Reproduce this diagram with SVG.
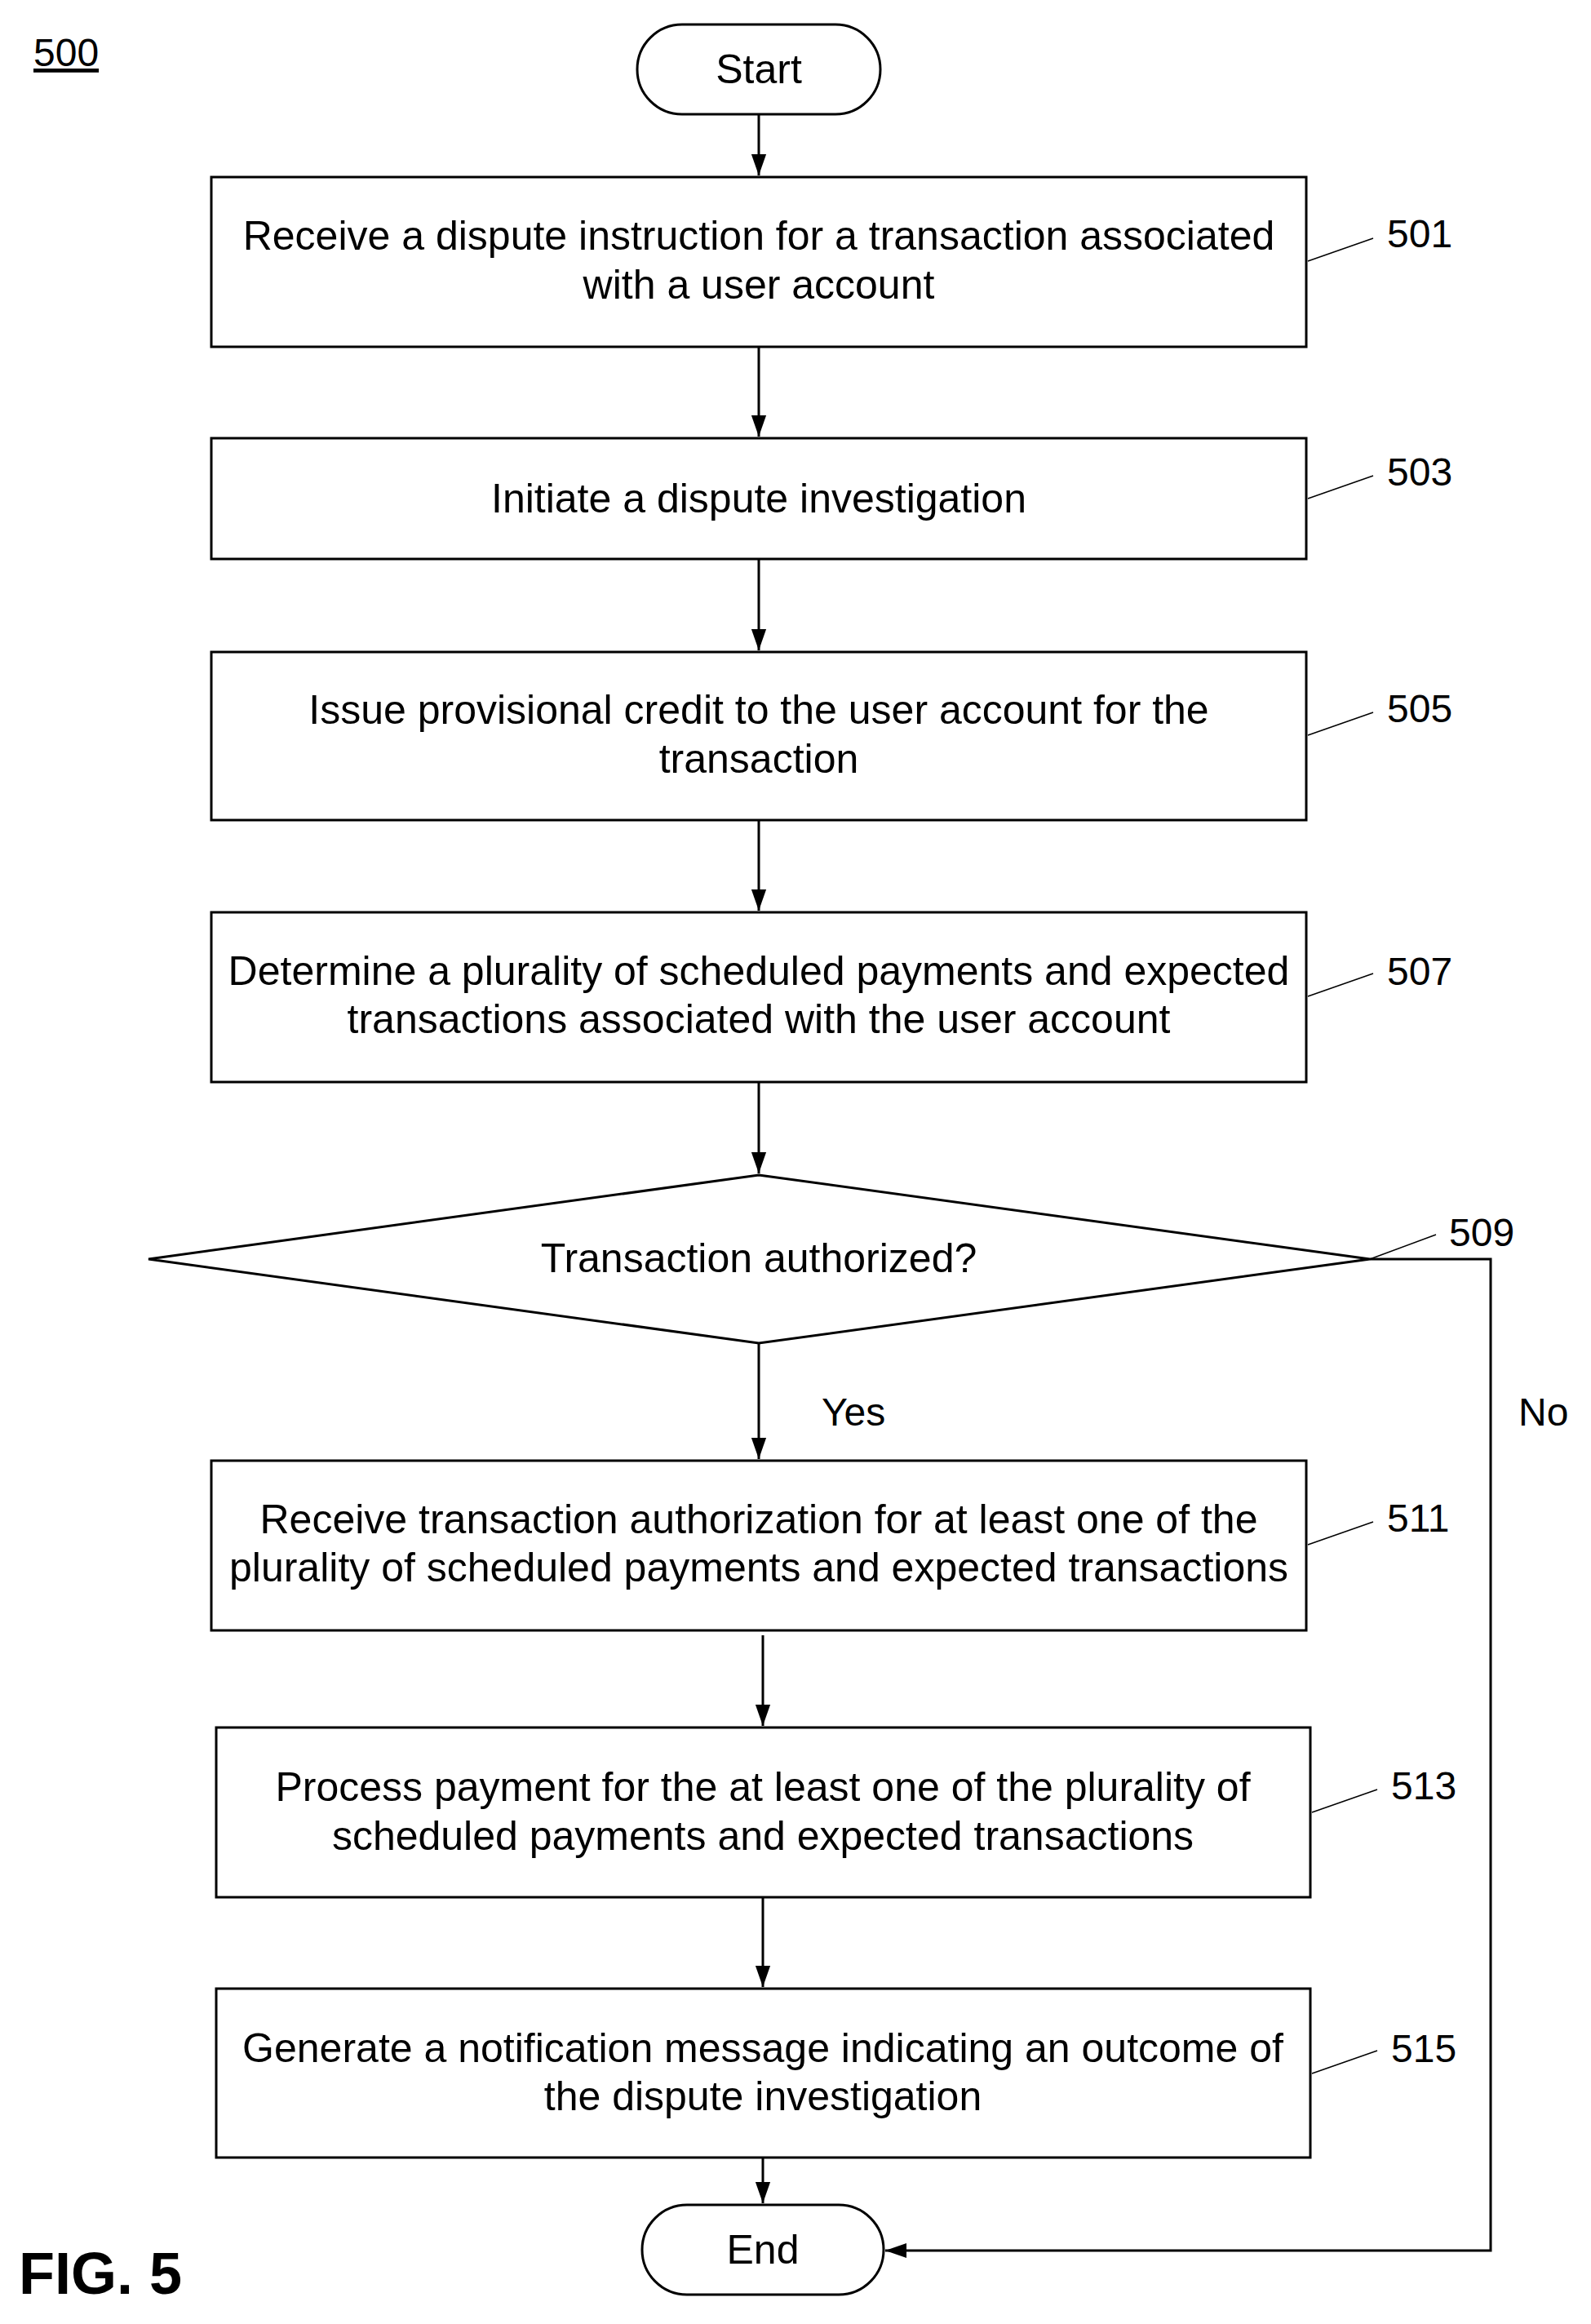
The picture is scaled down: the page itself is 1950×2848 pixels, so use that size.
<svg xmlns="http://www.w3.org/2000/svg" width="1950" height="2848" viewBox="0 0 1950 2848">
<style>
.b{fill:#fff;stroke:#000;stroke-width:3}
.t{font-family:"Liberation Sans",Arial,sans-serif;font-size:50px;text-anchor:middle;fill:#000}
.n{font-family:"Liberation Sans",Arial,sans-serif;font-size:48px;fill:#000}
.c{fill:none;stroke:#000;stroke-width:3}
.l{stroke:#000;stroke-width:1.5}
</style>
<defs>
<marker id="ar" viewBox="0 0 20 20" refX="20" refY="10" markerWidth="26" markerHeight="26" markerUnits="userSpaceOnUse" orient="auto"><path d="M0,3 L20,10 L0,17 z"/></marker></defs>
<g transform="translate(3,8)">
<text class="n" x="38" y="73" text-decoration="underline">500</text>
<text x="20" y="2803" style="font-family:'Liberation Sans',Arial,sans-serif;font-size:72px;font-weight:bold">FIG. 5</text>
<g id="start"><rect class="b" x="778" y="22" width="298" height="110" rx="55"/><text class="t" x="927" y="94">Start</text></g>
<g id="n501"><rect class="b" x="256" y="209" width="1342" height="208"/><text class="t" x="927" y="298">Receive a dispute instruction for a transaction associated</text><text class="t" x="927" y="358">with a user account</text><line class="l" x1="1600" y1="312" x2="1680" y2="284"/><text class="n" x="1697" y="295">501</text></g>
<g id="n503"><rect class="b" x="256" y="529" width="1342" height="148"/><text class="t" x="927" y="620">Initiate a dispute investigation</text><line class="l" x1="1600" y1="603" x2="1680" y2="575"/><text class="n" x="1697" y="587">503</text></g>
<g id="n505"><rect class="b" x="256" y="791" width="1342" height="206"/><text class="t" x="927" y="879">Issue provisional credit to the user account for the</text><text class="t" x="927" y="939">transaction</text><line class="l" x1="1600" y1="893" x2="1680" y2="865"/><text class="n" x="1697" y="877">505</text></g>
<g id="n507"><rect class="b" x="256" y="1110" width="1342" height="208"/><text class="t" x="927" y="1199">Determine a plurality of scheduled payments and expected</text><text class="t" x="927" y="1258">transactions associated with the user account</text><line class="l" x1="1600" y1="1213" x2="1680" y2="1185"/><text class="n" x="1697" y="1199">507</text></g>
<g id="n509"><polygon class="b" points="927,1432 1676,1535 927,1638 179,1535"/><text class="t" x="927" y="1551">Transaction authorized?</text><line class="l" x1="1676" y1="1535" x2="1757" y2="1505"/><text class="n" x="1773" y="1519">509</text></g>
<g id="n511"><rect class="b" x="256" y="1782" width="1342" height="208"/><text class="t" x="927" y="1871">Receive transaction authorization for at least one of the</text><text class="t" x="927" y="1930">plurality of scheduled payments and expected transactions</text><line class="l" x1="1600" y1="1885" x2="1680" y2="1857"/><text class="n" x="1697" y="1869">511</text></g>
<g id="n513"><rect class="b" x="262" y="2109" width="1341" height="208"/><text class="t" x="932" y="2199">Process payment for the at least one of the plurality of</text><text class="t" x="932" y="2259">scheduled payments and expected transactions</text><line class="l" x1="1605" y1="2213" x2="1685" y2="2185"/><text class="n" x="1702" y="2197">513</text></g>
<g id="n515"><rect class="b" x="262" y="2429" width="1341" height="207"/><text class="t" x="932" y="2519">Generate a notification message indicating an outcome of</text><text class="t" x="932" y="2578">the dispute investigation</text><line class="l" x1="1605" y1="2533" x2="1685" y2="2505"/><text class="n" x="1702" y="2519">515</text></g>
<g id="end"><rect class="b" x="784" y="2694" width="296" height="110" rx="55"/><text class="t" x="932" y="2766">End</text></g>
<g id="connectors">
<line class="c" x1="927" y1="132" x2="927" y2="207" marker-end="url(#ar)"/>
<line class="c" x1="927" y1="417" x2="927" y2="527" marker-end="url(#ar)"/>
<line class="c" x1="927" y1="677" x2="927" y2="789" marker-end="url(#ar)"/>
<line class="c" x1="927" y1="997" x2="927" y2="1108" marker-end="url(#ar)"/>
<line class="c" x1="927" y1="1318" x2="927" y2="1430" marker-end="url(#ar)"/>
<line class="c" x1="927" y1="1638" x2="927" y2="1780" marker-end="url(#ar)"/>
<line class="c" x1="932" y1="1996" x2="932" y2="2107" marker-end="url(#ar)"/>
<line class="c" x1="932" y1="2317" x2="932" y2="2427" marker-end="url(#ar)"/>
<line class="c" x1="932" y1="2636" x2="932" y2="2692" marker-end="url(#ar)"/>
<polyline class="c" points="1676,1535 1824,1535 1824,2750 1082,2750" marker-end="url(#ar)"/>
<text class="n" x="1004" y="1739">Yes</text>
<text class="n" x="1858" y="1739">No</text>
</g>
</g>
</svg>
